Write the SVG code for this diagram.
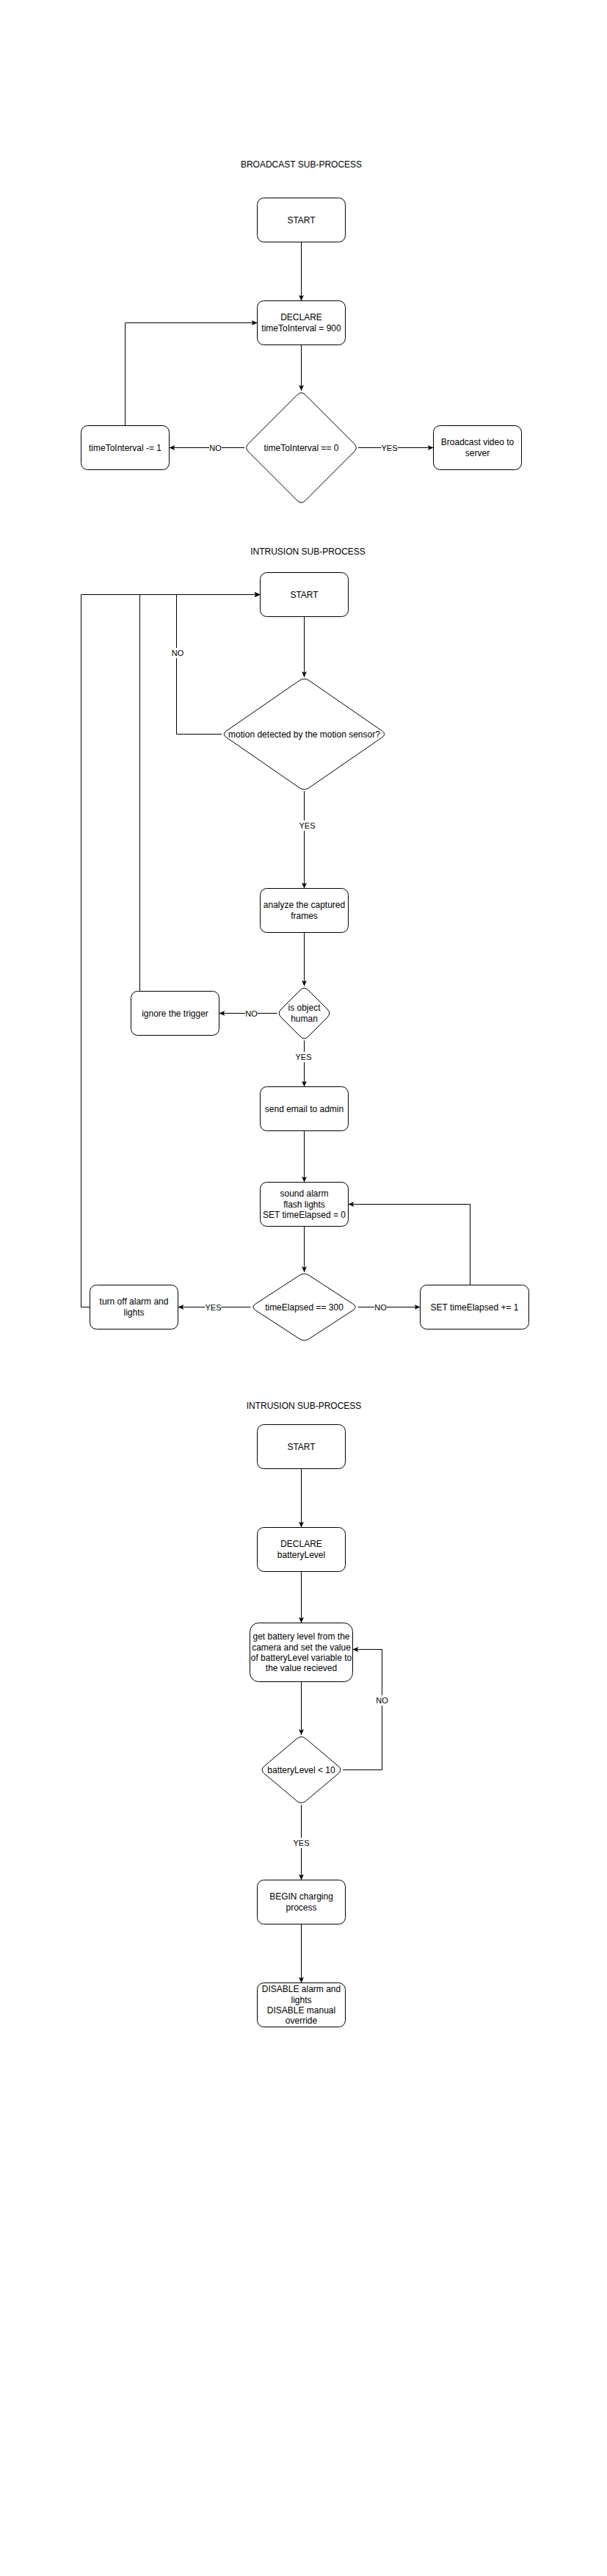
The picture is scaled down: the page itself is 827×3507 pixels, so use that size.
<svg xmlns="http://www.w3.org/2000/svg" width="827" height="3507" viewBox="0 0 827 3507">
<style>
.bg{fill:#ffffff}
.box{fill:#ffffff;stroke:#000000;stroke-width:1}
.t{font-family:"Liberation Sans",Arial,Helvetica,sans-serif;font-size:12px;fill:#000000;text-anchor:middle}
.lbl{font-family:"Liberation Sans",Arial,Helvetica,sans-serif;font-size:11px;fill:#000000;text-anchor:middle}
.lblbg{fill:#ffffff;stroke:none}
.e{fill:none;stroke:#000000;stroke-width:1;marker-end:url(#arr)}
.en{fill:none;stroke:#000000;stroke-width:1}
</style>
<defs>
<marker id="arr" viewBox="0 0 8 7" refX="8" refY="3.5" markerWidth="8" markerHeight="7" markerUnits="userSpaceOnUse" orient="auto">
<path d="M0,0 L8,3.5 L0,7 L2,3.5 Z" fill="#000000"/>
</marker>
</defs>
<rect class="bg" x="0" y="0" width="827" height="3507"/>

<g id="titles">
<text class="t" x="410.5" y="228.2">BROADCAST SUB-PROCESS</text>
<text class="t" x="419.5" y="755.2">INTRUSION SUB-PROCESS</text>
<text class="t" x="414" y="1917.7">INTRUSION SUB-PROCESS</text>
</g>

<g id="connectors">
<!-- section 1 -->
<path class="e" d="M410.5,329.5 L410.5,409.5"/>
<path class="e" d="M410.5,469.5 L410.5,532"/>
<path class="e" d="M333,609.5 L230.5,609.5"/>
<path class="e" d="M488,609.5 L590.5,609.5"/>
<path class="e" d="M170.5,579.5 L170.5,439.5 L350.5,439.5"/>
<rect class="lblbg" x="285" y="602" width="17" height="14"/>
<text class="lbl" x="293.5" y="613.5">NO</text>
<rect class="lblbg" x="519.5" y="602" width="22" height="14"/>
<text class="lbl" x="530.5" y="613.5">YES</text>

<!-- section 2 -->
<path class="e" d="M414.5,839.5 L414.5,922"/>
<path class="e" d="M302,999.5 L240.5,999.5 L240.5,809.5 L354.5,809.5"/>
<path class="e" d="M414.5,1077 L414.5,1209.5"/>
<path class="e" d="M414.5,1269.5 L414.5,1342.5"/>
<path class="e" d="M377.5,1379.5 L298.5,1379.5"/>
<path class="e" d="M190.5,1349.5 L190.5,809.5 L354.5,809.5"/>
<path class="e" d="M414.5,1416.5 L414.5,1479.5"/>
<path class="e" d="M414.5,1539.5 L414.5,1609.5"/>
<path class="e" d="M414.5,1669.5 L414.5,1732"/>
<path class="e" d="M341.5,1779.5 L242.5,1779.5"/>
<path class="e" d="M487.5,1779.5 L572.5,1779.5"/>
<path class="e" d="M640.5,1749.5 L640.5,1639.5 L474.5,1639.5"/>
<path class="e" d="M122.5,1779.5 L110.5,1779.5 L110.5,809.5 L354.5,809.5"/>
<rect class="lblbg" x="233.5" y="882" width="17" height="14"/>
<text class="lbl" x="242" y="893">NO</text>
<rect class="lblbg" x="407.5" y="1117" width="22" height="14"/>
<text class="lbl" x="418.5" y="1128">YES</text>
<rect class="lblbg" x="334" y="1372.5" width="17" height="14"/>
<text class="lbl" x="342.5" y="1383.5">NO</text>
<rect class="lblbg" x="402.5" y="1432" width="22" height="14"/>
<text class="lbl" x="413.5" y="1443">YES</text>
<rect class="lblbg" x="279.5" y="1772.5" width="22" height="14"/>
<text class="lbl" x="290.5" y="1783.5">YES</text>
<rect class="lblbg" x="510" y="1772.5" width="17" height="14"/>
<text class="lbl" x="518.5" y="1783.5">NO</text>

<!-- section 3 -->
<path class="e" d="M410.5,1999.5 L410.5,2079.5"/>
<path class="e" d="M410.5,2139.5 L410.5,2209.5"/>
<path class="e" d="M410.5,2289.5 L410.5,2362"/>
<path class="e" d="M467,2409.5 L520.5,2409.5 L520.5,2245.5 L480.5,2245.5"/>
<path class="e" d="M410.5,2457 L410.5,2559.5"/>
<path class="e" d="M410.5,2619.5 L410.5,2699.5"/>
<rect class="lblbg" x="512" y="2308" width="17" height="14"/>
<text class="lbl" x="520.5" y="2319">NO</text>
<rect class="lblbg" x="399.5" y="2502" width="22" height="14"/>
<text class="lbl" x="410.5" y="2513">YES</text>
</g>

<!-- section 1 nodes -->
<g id="b_start">
<rect class="box" x="350.5" y="269.5" width="120" height="60" rx="9" ry="9"/>
<text class="t" x="410.5" y="303.7">START</text>
</g>
<g id="b_declare">
<rect class="box" x="350.5" y="409.5" width="120" height="60" rx="9" ry="9"/>
<text class="t" x="410.5" y="436.2">DECLARE</text>
<text class="t" x="410.5" y="450.7">timeToInterval = 900</text>
</g>
<g id="b_check">
<path class="box" d="M415.9,537.4 L482.6,604.1 Q488,609.5 482.6,614.9 L415.9,681.6 Q410.5,687 405.1,681.6 L338.4,614.9 Q333,609.5 338.4,604.1 L405.1,537.4 Q410.5,532 415.9,537.4 Z"/>
<text class="t" x="410.5" y="613.7">timeToInterval == 0</text>
</g>
<g id="b_decrement">
<rect class="box" x="110.5" y="579.5" width="120" height="60" rx="9" ry="9"/>
<text class="t" x="170.5" y="613.7">timeToInterval -= 1</text>
</g>
<g id="b_broadcast">
<rect class="box" x="590.5" y="579.5" width="120" height="60" rx="9" ry="9"/>
<text class="t" x="650.5" y="606.2">Broadcast video to</text>
<text class="t" x="650.5" y="620.7">server</text>
</g>

<!-- section 2 nodes -->
<g id="i_start">
<rect class="box" x="354.5" y="779.5" width="120" height="60" rx="9" ry="9"/>
<text class="t" x="414.5" y="813.7">START</text>
</g>
<g id="i_motion">
<path class="box" d="M421.1,926.5 L520.4,995 Q527,999.5 520.4,1004 L421.1,1072.5 Q414.5,1077 407.9,1072.5 L308.6,1004 Q302,999.5 308.6,995 L407.9,926.5 Q414.5,922 421.1,926.5 Z"/>
<text class="t" x="414.5" y="1003.7">motion detected by the motion sensor?</text>
</g>
<g id="i_analyze">
<rect class="box" x="354.5" y="1209.5" width="120" height="60" rx="9" ry="9"/>
<text class="t" x="414.5" y="1236.2">analyze the captured</text>
<text class="t" x="414.5" y="1250.7">frames</text>
</g>
<g id="i_human">
<path class="box" d="M420,1348 L446,1374 Q451.5,1379.5 446,1385 L420,1411 Q414.5,1416.5 409,1411 L383,1385 Q377.5,1379.5 383,1374 L409,1348 Q414.5,1342.5 420,1348 Z"/>
<text class="t" x="414.5" y="1376.2">is object</text>
<text class="t" x="414.5" y="1390.7">human</text>
</g>
<g id="i_ignore">
<rect class="box" x="178.5" y="1349.5" width="120" height="60" rx="9" ry="9"/>
<text class="t" x="238.5" y="1383.7">ignore the trigger</text>
</g>
<g id="i_email">
<rect class="box" x="354.5" y="1479.5" width="120" height="60" rx="9" ry="9"/>
<text class="t" x="414.5" y="1513.7">send email to admin</text>
</g>
<g id="i_alarm">
<rect class="box" x="354.5" y="1609.5" width="120" height="60" rx="9" ry="9"/>
<text class="t" x="414.5" y="1629.2">sound alarm</text>
<text class="t" x="414.5" y="1643.7">flash lights</text>
<text class="t" x="414.5" y="1658.2">SET timeElapsed = 0</text>
</g>
<g id="i_elapsed">
<path class="box" d="M421.2,1736.4 L480.8,1775.1 Q487.5,1779.5 480.8,1783.9 L421.2,1822.6 Q414.5,1827 407.8,1822.6 L348.2,1783.9 Q341.5,1779.5 348.2,1775.1 L407.8,1736.4 Q414.5,1732 421.2,1736.4 Z"/>
<text class="t" x="414.5" y="1783.7">timeElapsed == 300</text>
</g>
<g id="i_turnoff">
<rect class="box" x="122.5" y="1749.5" width="120" height="60" rx="9" ry="9"/>
<text class="t" x="182.5" y="1776.2">turn off alarm and</text>
<text class="t" x="182.5" y="1790.7">lights</text>
</g>
<g id="i_increment">
<rect class="box" x="572.5" y="1749.5" width="148" height="60" rx="9" ry="9"/>
<text class="t" x="646.5" y="1783.7">SET timeElapsed += 1</text>
</g>

<!-- section 3 nodes -->
<g id="c_start">
<rect class="box" x="350.5" y="1939.5" width="120" height="60" rx="9" ry="9"/>
<text class="t" x="410.5" y="1973.7">START</text>
</g>
<g id="c_declare">
<rect class="box" x="350.5" y="2079.5" width="120" height="60" rx="9" ry="9"/>
<text class="t" x="410.5" y="2106.2">DECLARE</text>
<text class="t" x="410.5" y="2120.7">batteryLevel</text>
</g>
<g id="c_get">
<rect class="box" x="340.5" y="2209.5" width="140" height="80" rx="12" ry="12"/>
<text class="t" x="410.5" y="2232.1">get battery level from the</text>
<text class="t" x="410.5" y="2246.5">camera and set the value</text>
<text class="t" x="410.5" y="2260.9">of batteryLevel variable to</text>
<text class="t" x="410.5" y="2275.3">the value recieved</text>
</g>
<g id="c_check">
<path class="box" d="M416.6,2367.1 L460.9,2404.4 Q467,2409.5 460.9,2414.6 L416.6,2451.9 Q410.5,2457 404.4,2451.9 L360.1,2414.6 Q354,2409.5 360.1,2404.4 L404.4,2367.1 Q410.5,2362 416.6,2367.1 Z"/>
<text class="t" x="410.5" y="2413.7">batteryLevel &lt; 10</text>
</g>
<g id="c_begin">
<rect class="box" x="350.5" y="2559.5" width="120" height="60" rx="9" ry="9"/>
<text class="t" x="410.5" y="2586.2">BEGIN charging</text>
<text class="t" x="410.5" y="2600.7">process</text>
</g>
<g id="c_disable">
<rect class="box" x="350.5" y="2699.5" width="120" height="60" rx="9" ry="9"/>
<text class="t" x="410.5" y="2712.1">DISABLE alarm and</text>
<text class="t" x="410.5" y="2726.5">lights</text>
<text class="t" x="410.5" y="2740.9">DISABLE manual</text>
<text class="t" x="410.5" y="2755.3">override</text>
</g>
</svg>
